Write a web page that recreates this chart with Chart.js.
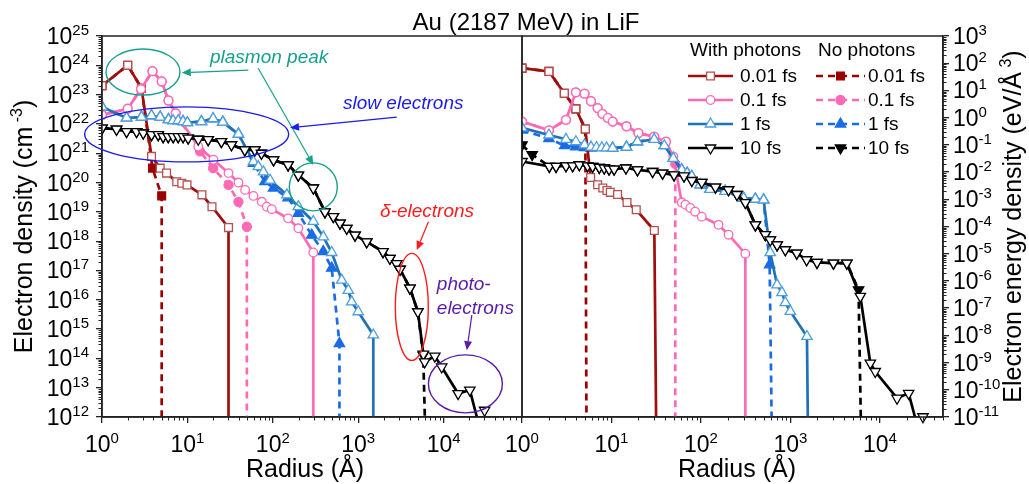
<!DOCTYPE html>
<html lang="en">
<head>
<meta charset="UTF-8">
<title>Au (2187 MeV) in LiF</title>
<script src="https://cdn.jsdelivr.net/npm/chart.js"></script>
<style>
  body { margin: 0; background: #fff; }
  #wrap { position: relative; width: 1029px; height: 484px; }
  canvas { position: absolute; left: 0; top: 0; }
</style>
</head>
<body>
<div id="wrap">
  <canvas id="left" width="1029" height="484"></canvas>
  <canvas id="right" width="1029" height="484"></canvas>
</div>
<script>
// ---- left panel: electron density (cm^-3) vs radius (Å)
const rL001  = [1, 2, 2.9, 3.8, 4.8, 5.7, 7.5, 8.6, 9.9, 14.8, 19.4, 30.3, 30.3];
const nL001  = [2.0e23, 1.0e24, 1.66e23, 7.8e20, 3.1e20, 2.1e20, 1.07e20, 9.5e19, 8.3e19, 3.8e19, 1.5e19, 2.9e18, 1e12];
const rL001n = [1, 2, 2.9, 3.9, 5.0, 5.0];
const nL001n = [2.0e23, 1.0e24, 1.66e23, 3.1e20, 3.5e19, 1e12];

const rL01  = [1, 2.0, 2.86, 3.9, 5.0, 6.0, 7.3, 13.4, 20.2, 30.3, 39.6, 47.4, 59.3, 74.3, 85.1, 97.3, 151, 199, 298, 298];
const nL01  = [2.0e22, 3.3e22, 1.55e23, 6.3e23, 2.8e23, 6.3e22, 2.3e22, 1.7e21, 6.0e20, 2.1e20, 1.0e20, 5.6e19, 3.5e19, 2.2e19, 1.5e19, 1.23e19, 6.0e18, 2.75e18, 4.1e17, 1e12];
const rL01n = [1, 2.0, 2.86, 3.9, 5.0, 6.0, 7.3, 14.1, 20, 30.3, 39.6, 49.7, 49.7];
const nL01n = [2.0e22, 3.3e22, 1.55e23, 6.3e23, 2.8e23, 6.3e22, 2.3e22, 1.15e21, 3.1e20, 8.3e19, 2.2e19, 3.1e18, 1e12];

const rL1  = [1, 1.94, 2.9, 3.8, 4.8, 6.0, 6.8, 7.8, 8.9, 10, 14.6, 20, 26, 39.6, 59.3, 67.7, 77.6, 93, 146, 199, 298, 391, 490, 641, 766, 839, 1000, 1503, 1503];
const nL1  = [3.8e22, 1.6e22, 1.7e22, 1.9e22, 1.7e22, 1.4e22, 1.3e22, 1.3e22, 1.2e22, 1.1e22, 1.2e22, 1.5e22, 1.15e22, 4.5e21, 5.2e20, 3.5e20, 2.3e20, 1.2e20, 3.8e19, 1.5e19, 4.7e18, 1.4e18, 4.1e17, 4.7e16, 2.1e16, 8.5e15, 3.9e15, 6.3e14, 1e12];
const rL1n = [1, 1.94, 2.9, 3.8, 4.8, 6.0, 6.8, 7.8, 8.9, 10, 14.6, 20, 26, 39.6, 59.3, 81, 102, 151, 199, 286, 390, 490, 603, 603];
const nL1n = [3.8e22, 1.6e22, 1.7e22, 1.9e22, 1.7e22, 1.4e22, 1.3e22, 1.3e22, 1.2e22, 1.1e22, 1.2e22, 1.5e22, 1.15e22, 4.5e21, 4.5e20, 1.07e20, 6.5e19, 3.0e19, 8.9e18, 1.6e18, 4.4e17, 1.2e17, 3.2e14, 1e12];

const rL10  = [1, 1.48, 1.94, 2.54, 3.04, 3.8, 4.55, 5.2, 5.96, 6.82, 7.8, 8.9, 10.2, 13.4, 17.5, 25, 32.8, 47, 61.5, 73.6, 102, 151, 199, 298, 408, 512, 612, 734, 918, 1259, 1950, 2350, 2820, 3090, 4035, 5000, 5800, 6000, 7900, 9500, 14800, 20300, 24500, 27000, 30200];
const nL10  = [7.2e21, 6.6e21, 5.5e21, 5.5e21, 4.9e21, 4.3e21, 4.3e21, 3.7e21, 3.7e21, 3.7e21, 3.7e21, 3.7e21, 3.3e21, 3.0e21, 2.9e21, 2.5e21, 1.95e21, 1.3e21, 1.3e21, 1.0e21, 5.9e20, 4.0e20, 1.8e20, 6.5e19, 1.0e19, 6.9e18, 4.1e18, 2.75e18, 1.6e18, 9.5e17, 4.4e17, 2.6e17, 1.7e17, 1.1e17, 2.5e16, 3.9e15, 1.4e14, 7.6e13, 1.2e14, 5.1e13, 6.3e12, 8.3e12, 1e12, null, 1.7e12];
const rL10n = [1, 1.48, 1.94, 2.54, 3.04, 3.8, 4.55, 5.2, 5.96, 6.82, 7.8, 8.9, 10.2, 13.4, 17.5, 25, 32.8, 47, 61.5, 73.6, 102, 151, 199, 298, 408, 512, 612, 734, 918, 1259, 1950, 2350, 2820, 3090, 4035, 5000, 5770, 6030];
const nL10n = [7.2e21, 6.6e21, 5.5e21, 5.5e21, 4.9e21, 4.3e21, 4.3e21, 3.7e21, 3.7e21, 3.7e21, 3.7e21, 3.7e21, 3.3e21, 3.0e21, 2.9e21, 2.5e21, 1.95e21, 1.3e21, 1.3e21, 1.0e21, 5.9e20, 4.0e20, 1.8e20, 6.5e19, 1.0e19, 6.9e18, 4.1e18, 2.75e18, 1.6e18, 9.5e17, 4.4e17, 2.6e17, 1.7e17, 1.1e17, 2.5e16, 3.9e15, 1.3e14, 1e12];

// ---- right panel: electron energy density (eV/Å^3) vs radius (Å)
const rR001  = [1, 2.0, 2.97, 4.0, 5.1, 5.85, 7.0, 8.0, 8.9, 9.7, 11.7, 14.9, 18.9, 30.1, 31.5];
const eR001  = [66, 50, 7.9, 2.1, 0.38, 6.3e-3, 3.4e-3, 2.6e-3, 2.1e-3, 1.8e-3, 1.5e-3, 7.6e-4, 4.1e-4, 7.1e-5, 1e-11];
const rR001n = [1, 2.0, 2.97, 4.0, 5.1, 5.25];
const eR001n = [66, 50, 7.9, 2.1, 0.38, 1e-11];

const rR01  = [1, 2.0, 3.1, 4.0, 5.0, 5.9, 7.0, 7.9, 9.1, 10.3, 14.7, 20, 30, 40.6, 49, 61, 67, 76, 86, 102, 157, 203, 313, 313];
const eR01  = [0.72, 0.34, 0.83, 8.5, 7.6, 4.0, 2.24, 1.38, 0.98, 0.72, 0.48, 0.27, 0.2, 0.13, 0.037, 7.6e-4, 6.3e-4, 4.8e-4, 3.5e-4, 2.3e-4, 1.15e-4, 5.0e-5, 1.0e-5, 1e-11];
const rR01n = [1, 2.0, 3.1, 4.0, 5.0, 5.9, 7.0, 7.9, 9.1, 10.3, 14.7, 20, 30, 40.6, 51.6, 51.6];
const eR01n = [0.72, 0.34, 0.83, 8.5, 7.6, 4.0, 2.24, 1.38, 0.98, 0.72, 0.48, 0.27, 0.2, 0.13, 0.02, 1e-11];

const rR1  = [1, 2.0, 3.1, 4.0, 5.0, 5.9, 6.8, 7.8, 8.8, 10.3, 14.7, 19.5, 30, 39, 49, 61, 70, 79, 98, 126, 186, 299, 405, 501, 594, 708, 803, 875, 995, 1528, 1560];
const eR1  = [0.42, 0.23, 0.16, 0.13, 0.10, 0.083, 0.08, 0.078, 0.077, 0.076, 0.083, 0.13, 0.16, 0.093, 0.032, 0.012, 9.1e-3, 6.9e-3, 3.4e-3, 2.3e-3, 1.95e-3, 1.1e-3, 1.02e-3, 9.5e-4, 1.1e-5, 7.2e-7, 3.7e-7, 1.6e-7, 7.6e-8, 9.1e-9, 1e-11];
const rR1n = [1, 2.0, 3.0, 4.0, 5.0, 5.9, 10.3, 14.7, 19.5, 30, 39, 49, 61, 70, 79, 98, 126, 186, 299, 405, 501, 585, 615];
const eR1n = [0.35, 0.17, 0.093, 0.085, 0.08, 0.076, 0.076, 0.083, 0.13, 0.16, 0.093, 0.032, 0.012, 9.1e-3, 6.9e-3, 3.4e-3, 2.3e-3, 1.95e-3, 1.1e-3, 1.02e-3, 9.5e-4, 3.9e-6, 1e-11];

const rR10  = [1, 2.02, 2.4, 3.1, 3.68, 4.37, 5.4, 6.15, 7.3, 8.3, 9.4, 10.7, 14.5, 19.5, 28.8, 37.2, 50, 64.6, 79, 102, 145, 203, 252, 313, 405, 523, 594, 708, 875, 1175, 1515, 1977, 3020, 4260, 6030, 7800, 8850, 15500, 20900, 24600, 27000, 30200];
const eR10  = [0.0245, 0.0162, 0.0162, 0.017, 0.017, 0.0186, 0.017, 0.0162, 0.0148, 0.0141, 0.0129, 0.0129, 0.0141, 0.012, 0.0105, 9.1e-3, 7.9e-3, 7.2e-3, 4.9e-3, 4.2e-3, 2.8e-3, 2.24e-3, 1.5e-3, 7.6e-4, 1.15e-4, 5.0e-5, 3.2e-5, 2.1e-5, 1.4e-5, 1.05e-5, 6.0e-6, 4.8e-6, 4.5e-6, 4.5e-6, 2.7e-7, 9.5e-10, 4.7e-10, 4.9e-11, 7.4e-11, 1e-11, null, 1.02e-11];
const rR10n = [1, 1.3, 2.02, 2.4, 3.1, 3.68, 4.37, 5.4, 6.15, 7.3, 8.3, 9.4, 10.7, 14.5, 19.5, 28.8, 37.2, 50, 64.6, 79, 102, 145, 203, 252, 313, 405, 523, 594, 708, 875, 1175, 1515, 1977, 3020, 4260, 5760, 6100];
const eR10n = [0.1, 0.044, 0.0162, 0.0162, 0.017, 0.017, 0.0186, 0.017, 0.0162, 0.0148, 0.0141, 0.0129, 0.0129, 0.0141, 0.012, 0.0105, 9.1e-3, 7.9e-3, 7.2e-3, 4.9e-3, 4.2e-3, 2.8e-3, 2.24e-3, 1.5e-3, 7.6e-4, 1.15e-4, 5.0e-5, 3.2e-5, 2.1e-5, 1.4e-5, 1.05e-5, 6.0e-6, 4.8e-6, 4.5e-6, 4.5e-6, 4.7e-7, 1e-11];

const legendTimes = ['0.01 fs', '0.1 fs', '1 fs', '10 fs'];

// annotations on the left panel, in data units (radius, density)
const noteEllipses = [
  { color: '#17a08c', r: 3.02, n: 5.9e23, rx: 37, ry: 23 },
  { color: '#17a08c', r: 298, n: 7.1e19, rx: 24, ry: 24 },
  { color: '#1b1bea', r: 9.8, n: 4.4e21, rx: 102, ry: 27.5 },
  { color: '#ff1b1b', r: 4245, n: 5.7e15, rx: 16.5, ry: 53.5 },
  { color: '#5a1ca8', r: 18000, n: 1.35e13, rx: 37, ry: 29 }
];
const noteArrows = [
  { color: '#17a08c', from: [51.7, 6.9e23], to: [8.6, 5.6e23] },
  { color: '#17a08c', from: [67.2, 8.1e23], to: [298, 4.0e20] },
  { color: '#1b1bea', from: [2830, 1.7e22], to: [159, 7.4e21] },
  { color: '#ff1b1b', from: [6640, 4.6e18], to: [4856, 5.0e17] },
  { color: '#5a1ca8', from: [21400, 3.0e15], to: [18700, 1.9e14] }
];
const noteTexts = [
  { color: '#17a08c', text: 'plasmon peak', r: 18.4, n: 1.78e24 },
  { color: '#1b1bea', text: 'slow electrons', r: 665, n: 5.0e22 },
  { color: '#ff1b1b', text: 'δ-electrons', r: 1805, n: 1.0e19 },
  { color: '#5a1ca8', text: 'photo-', r: 8330, n: 3.2e16 },
  { color: '#5a1ca8', text: 'electrons', r: 8330, n: 5.1e15 }
];

const FONT = 'Arial, "Liberation Sans", Helvetica, sans-serif';
Chart.defaults.font.family = FONT;

// series styles: with photons (solid, open markers) and no photons (dashed, filled markers)
const withStyle = [
  { line: '#a00d0d', edge: '#b65050', fill: '#fff', shape: 'rect', size: 5.5 },
  { line: '#ff6ab4', edge: '#ff6ab4', fill: '#fff', shape: 'circle', size: 4.3 },
  { line: '#1f72b8', edge: '#4f9fdc', fill: '#fff', shape: 'triangle', size: 6 },
  { line: '#000000', edge: '#000000', fill: '#fff', shape: 'triangle', rot: 180, size: 6 }
];
const noStyle = [
  { line: '#9a0000', edge: '#9a0000', fill: '#9a0000', shape: 'rect', size: 5.5, dash: [7, 5] },
  { line: '#ff6ab4', edge: '#ff6ab4', fill: '#ff6ab4', shape: 'circle', size: 4.5, dash: [7, 5] },
  { line: '#1a6ce6', edge: '#1a6ce6', fill: '#1a6ce6', shape: 'triangle', size: 6, dash: [7, 5] },
  { line: '#000000', edge: '#000000', fill: '#000000', shape: 'triangle', rot: 180, size: 6, dash: [7, 5] }
];

function series(r, v, st, yMin, order) {
  return {
    data: r.map((x, i) => ({ x: x, y: v[i] })),
    borderColor: st.line,
    borderWidth: 2.7,
    borderDash: st.dash || [],
    pointStyle: st.shape,
    pointRotation: st.rot || 0,
    pointRadius: c => (c.raw && c.raw.y !== null && c.raw.y > yMin * 1.0001 ? st.size : 0),
    pointHoverRadius: 0,
    pointBackgroundColor: st.fill,
    pointBorderColor: st.edge,
    pointBorderWidth: 1.3,
    tension: 0,
    clip: { left: 0, top: 0, right: 0, bottom: 8 },
    order: order
  };
}

function decades(min, max) {
  const out = [];
  for (let e = Math.round(Math.log10(min)); Number('1e' + e) <= max * 1.0001; e++) {
    out.push({ value: Number('1e' + e), major: true });
  }
  return out;
}

function xAxis(max) {
  return {
    type: 'logarithmic', min: 1, max: max,
    border: { color: '#222', width: 1.5 },
    grid: { drawOnChartArea: false, drawTicks: true, tickLength: 6, color: '#222', lineWidth: 1.3 },
    ticks: { display: false },
    afterBuildTicks: s => { s.ticks = decades(s.min, s.max); },
    afterFit: s => { s.height = 67; }
  };
}

function yAxis(min, max, side, width) {
  return {
    type: 'logarithmic', min: min, max: max, position: side,
    border: { color: '#222', width: 1.5 },
    grid: { drawOnChartArea: false, drawTicks: true, tickLength: 6, color: '#222', lineWidth: 1.3 },
    ticks: { display: false },
    afterBuildTicks: s => { s.ticks = decades(s.min, s.max); },
    afterFit: s => { s.width = width; }
  };
}

// "10" with a raised exponent
function powLabel(ctx, exp, x, y, align) {
  const base = '10', sup = String(exp);
  ctx.font = '23px ' + FONT;
  const wb = ctx.measureText(base).width;
  ctx.font = '15px ' + FONT;
  const ws = ctx.measureText(sup).width;
  const x0 = align === 'right' ? x - wb - ws : align === 'center' ? x - (wb + ws) / 2 : x;
  ctx.textAlign = 'left';
  ctx.textBaseline = 'alphabetic';
  ctx.font = '23px ' + FONT;
  ctx.fillText(base, x0, y);
  ctx.font = '15px ' + FONT;
  ctx.fillText(sup, x0 + wb, y - 9);
}

// text with a superscript part, drawn centred at (x, y) baseline
function richText(ctx, parts, x, y, size) {
  let w = 0;
  parts.forEach(p => {
    ctx.font = (p.sup ? Math.round(size * 0.65) : size) + 'px ' + FONT;
    p.w = ctx.measureText(p.t).width;
    w += p.w;
  });
  let cx = x - w / 2;
  ctx.textAlign = 'left';
  ctx.textBaseline = 'alphabetic';
  parts.forEach(p => {
    ctx.font = (p.sup ? Math.round(size * 0.65) : size) + 'px ' + FONT;
    ctx.fillText(p.t, cx, p.sup ? y - size * 0.42 : y);
    cx += p.w;
  });
}

function marker(ctx, st, x, y) {
  const r = st.size;
  ctx.beginPath();
  if (st.shape === 'rect') {
    const s = r * Math.SQRT1_2;
    ctx.rect(x - s, y - s, 2 * s, 2 * s);
  } else if (st.shape === 'circle') {
    ctx.arc(x, y, r, 0, Math.PI * 2);
  } else {
    let a = (st.rot || 0) * Math.PI / 180;
    ctx.moveTo(x + Math.sin(a) * r, y - Math.cos(a) * r);
    for (let k = 0; k < 2; k++) {
      a += 2 * Math.PI / 3;
      ctx.lineTo(x + Math.sin(a) * r, y - Math.cos(a) * r);
    }
    ctx.closePath();
  }
  ctx.fillStyle = st.fill;
  ctx.fill();
  ctx.strokeStyle = st.edge;
  ctx.lineWidth = 1.3;
  ctx.stroke();
}

// frame, minor ticks and tick labels
const deco = {
  id: 'deco',
  afterDraw(chart, args, opts) {
    const ctx = chart.ctx, ca = chart.chartArea;
    const xs = chart.scales.x, ys = chart.scales.y;
    ctx.save();
    ctx.strokeStyle = '#222';
    ctx.lineWidth = 1.5;
    ctx.strokeRect(ca.left, ca.top, ca.right - ca.left, ca.bottom - ca.top);

    ctx.lineWidth = 1;
    ctx.beginPath();
    for (let e = Math.floor(Math.log10(xs.min)); e <= Math.ceil(Math.log10(xs.max)); e++) {
      for (let m = 2; m <= 9; m++) {
        const v = m * Number('1e' + e);
        if (v <= xs.min || v >= xs.max) continue;
        const px = Math.round(xs.getPixelForValue(v)) + 0.5;
        ctx.moveTo(px, ca.bottom);
        ctx.lineTo(px, ca.bottom + 3.5);
      }
    }
    for (let e = Math.floor(Math.log10(ys.min)); e <= Math.ceil(Math.log10(ys.max)); e++) {
      for (let m = 2; m <= 9; m++) {
        const v = m * Number('1e' + e);
        if (v <= ys.min || v >= ys.max) continue;
        const py = Math.round(ys.getPixelForValue(v)) + 0.5;
        if (opts.side === 'left') { ctx.moveTo(ca.left, py); ctx.lineTo(ca.left - 3.5, py); }
        else { ctx.moveTo(ca.right, py); ctx.lineTo(ca.right + 3.5, py); }
      }
    }
    ctx.stroke();

    ctx.fillStyle = '#000';
    xs.ticks.forEach(t => {
      powLabel(ctx, Math.round(Math.log10(t.value)), xs.getPixelForValue(t.value), 452, 'center');
    });
    ys.ticks.forEach(t => {
      const py = ys.getPixelForValue(t.value) + 8;
      const e = Math.round(Math.log10(t.value));
      if (opts.side === 'left') powLabel(ctx, e, ca.left - 13, py, 'right');
      else powLabel(ctx, e, ca.right + 10, py, 'left');
    });

    // axis titles
    richText(ctx, [{ t: 'Radius (Å)' }], opts.xTitleX, 477, 25);
    ctx.translate(opts.yTitleX, (ca.top + ca.bottom) / 2);
    ctx.rotate(-Math.PI / 2);
    richText(ctx, opts.yTitle, 0, 0, 25);
    ctx.restore();
  }
};

function arrowLine(ctx, x1, y1, x2, y2) {
  const a = Math.atan2(y2 - y1, x2 - x1), L = 9, W = 4;
  ctx.beginPath();
  ctx.moveTo(x1, y1);
  ctx.lineTo(x2 - Math.cos(a) * L, y2 - Math.sin(a) * L);
  ctx.stroke();
  ctx.beginPath();
  ctx.moveTo(x2, y2);
  ctx.lineTo(x2 - Math.cos(a) * L - Math.sin(a) * W, y2 - Math.sin(a) * L + Math.cos(a) * W);
  ctx.lineTo(x2 - Math.cos(a) * L + Math.sin(a) * W, y2 - Math.sin(a) * L - Math.cos(a) * W);
  ctx.closePath();
  ctx.fill();
}

const leftNotes = {
  id: 'leftNotes',
  afterDraw(chart) {
    const ctx = chart.ctx, xs = chart.scales.x, ys = chart.scales.y;
    ctx.save();
    ctx.lineWidth = 1.4;
    noteEllipses.forEach(o => {
      ctx.strokeStyle = o.color;
      ctx.beginPath();
      ctx.ellipse(xs.getPixelForValue(o.r), ys.getPixelForValue(o.n), o.rx, o.ry, 0, 0, Math.PI * 2);
      ctx.stroke();
    });
    ctx.lineWidth = 1.2;
    noteArrows.forEach(o => {
      ctx.strokeStyle = o.color;
      ctx.fillStyle = o.color;
      arrowLine(ctx, xs.getPixelForValue(o.from[0]), ys.getPixelForValue(o.from[1]),
        xs.getPixelForValue(o.to[0]), ys.getPixelForValue(o.to[1]));
    });
    ctx.font = 'italic 19px ' + FONT;
    ctx.textAlign = 'left';
    ctx.textBaseline = 'middle';
    noteTexts.forEach(o => {
      ctx.fillStyle = o.color;
      ctx.fillText(o.text, xs.getPixelForValue(o.r), ys.getPixelForValue(o.n));
    });
    // figure title
    ctx.fillStyle = '#000';
    ctx.font = '24px ' + FONT;
    ctx.textAlign = 'center';
    ctx.textBaseline = 'alphabetic';
    ctx.fillText('Au (2187 MeV) in LiF', 526, 30);
    ctx.restore();
  }
};

const rightLegend = {
  id: 'rightLegend',
  afterDraw(chart) {
    const ctx = chart.ctx;
    ctx.save();
    ctx.fillStyle = '#000';
    ctx.font = '19px ' + FONT;
    ctx.textAlign = 'left';
    ctx.textBaseline = 'middle';
    ctx.fillText('With photons', 690, 51);
    ctx.fillText('No photons', 818, 51);
    legendTimes.forEach((t, i) => {
      const y = 76 + i * 24;
      [[withStyle[i], 688, 733, 740], [noStyle[i], 816, 865, 868]].forEach(([st, x1, x2, tx]) => {
        ctx.strokeStyle = st.line;
        ctx.lineWidth = 2.7;
        ctx.setLineDash(st.dash || []);
        ctx.beginPath();
        ctx.moveTo(x1, y);
        ctx.lineTo(x2, y);
        ctx.stroke();
        ctx.setLineDash([]);
        marker(ctx, st, (x1 + x2) / 2, y);
        ctx.fillStyle = '#000';
        ctx.font = '19px ' + FONT;
        ctx.textAlign = 'left';
        ctx.textBaseline = 'middle';
        ctx.fillText(t, tx, y + 1);
      });
    });
    ctx.restore();
  }
};

const LY = 1e12, RY = 1e-11;

new Chart(document.getElementById('left'), {
  type: 'line',
  data: {
    datasets: [
      series(rL10, nL10, withStyle[3], LY, 1),
      series(rL1, nL1, withStyle[2], LY, 2),
      series(rL01, nL01, withStyle[1], LY, 3),
      series(rL001, nL001, withStyle[0], LY, 4),
      series(rL10n, nL10n, noStyle[3], LY, 5),
      series(rL1n, nL1n, noStyle[2], LY, 6),
      series(rL01n, nL01n, noStyle[1], LY, 7),
      series(rL001n, nL001n, noStyle[0], LY, 8)
    ]
  },
  options: {
    responsive: false, animation: false, events: [],
    layout: { padding: { left: 0, top: 36, right: 507, bottom: 0 } },
    scales: { x: xAxis(Math.pow(10, 4.918)), y: yAxis(1e12, 1e25, 'left', 102) },
    plugins: {
      legend: { display: false }, tooltip: { enabled: false },
      deco: { side: 'left', xTitleX: 305, yTitleX: 32,
        yTitle: [{ t: 'Electron density (cm' }, { t: ' -3', sup: true }, { t: ')' }] }
    }
  },
  plugins: [deco, leftNotes]
});

new Chart(document.getElementById('right'), {
  type: 'line',
  data: {
    datasets: [
      series(rR10, eR10, withStyle[3], RY, 1),
      series(rR1, eR1, withStyle[2], RY, 2),
      series(rR01, eR01, withStyle[1], RY, 3),
      series(rR001, eR001, withStyle[0], RY, 4),
      series(rR10n, eR10n, noStyle[3], RY, 5),
      series(rR1n, eR1n, noStyle[2], RY, 6),
      series(rR01n, eR01n, noStyle[1], RY, 7),
      series(rR001n, eR001n, noStyle[0], RY, 8)
    ]
  },
  options: {
    responsive: false, animation: false, events: [],
    layout: { padding: { left: 522, top: 36, right: 0, bottom: 0 } },
    scales: { x: xAxis(Math.pow(10, 4.704)), y: yAxis(1e-11, 1e3, 'right', 86) },
    plugins: {
      legend: { display: false }, tooltip: { enabled: false },
      deco: { side: 'right', xTitleX: 737, yTitleX: 1021,
        yTitle: [{ t: 'Electron energy density (eV/Å' }, { t: ' 3', sup: true }, { t: ')' }] }
    }
  },
  plugins: [deco, rightLegend]
});
</script>
</body>
</html>
